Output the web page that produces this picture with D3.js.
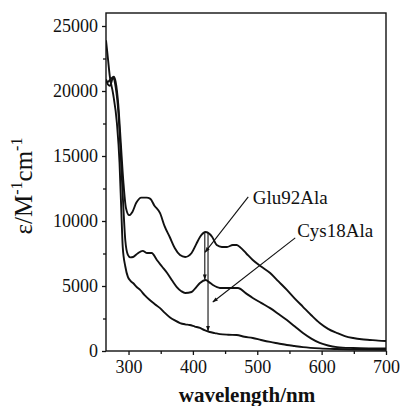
<!DOCTYPE html>
<html>
<head>
<meta charset="utf-8">
<script src="https://cdn.jsdelivr.net/npm/d3@7"></script>
<style>
  body { margin: 0; background: #fff; }
  text { font-family: "Liberation Serif", "Times New Roman", serif; fill: #111; }
</style>
</head>
<body>
<div id="chart"></div>
<script>
// wavelengths (nm) and extinction values
var wlA = [265, 268, 272, 277, 280, 284, 288, 292, 296, 301, 306, 312, 320, 328, 334, 340, 349, 356, 364, 372, 380, 388, 398, 405, 411, 420, 426, 430, 437, 445, 453, 462, 468, 473, 483, 493, 506, 520, 533, 546, 558, 571, 584, 597, 610, 624, 636, 649, 662, 675, 688, 700];
var epsA = [20800, 20700, 20900, 21100, 20700, 19000, 16000, 13000, 11000, 10450, 10700, 11400, 11800, 11800, 11700, 11200, 10600, 9600, 8770, 7900, 7380, 7230, 7540, 8200, 8770, 9150, 9000, 8770, 8150, 8000, 8000, 8150, 8150, 8000, 7500, 7000, 6500, 6000, 5350, 4700, 4050, 3400, 2750, 2150, 1700, 1380, 1150, 1000, 900, 850, 800, 770];

var wlB = [265, 268, 271, 276, 280, 284, 288, 292, 295, 299, 303, 307, 314, 322, 329, 336, 344, 352, 360, 368, 375, 382, 388, 398, 405, 411, 420, 425, 431, 442, 452, 461, 470, 482, 493, 506, 520, 533, 546, 558, 571, 584, 597, 610, 624, 649, 675, 700];
var epsB = [20900, 20500, 20400, 21000, 20300, 18500, 15000, 11000, 8500, 7400, 7200, 7230, 7500, 7700, 7540, 7540, 7000, 6500, 6000, 5400, 4920, 4600, 4460, 4540, 4900, 5230, 5460, 5300, 5080, 4850, 4850, 4850, 4850, 4450, 4080, 3700, 3300, 2850, 2380, 1900, 1380, 950, 620, 420, 300, 230, 200, 190];

var wlC = [265, 268, 271, 276, 282, 286, 289, 291, 295, 299, 303, 307, 313, 318, 325, 333, 341, 349, 356, 364, 372, 380, 388, 395, 403, 411, 418, 426, 434, 442, 455, 468, 480, 493, 506, 520, 533, 546, 558, 571, 597, 624, 650, 700];
var epsC = [23900, 22500, 21100, 19800, 17500, 14500, 10500, 8000, 6500, 5700, 5400, 5230, 4900, 4700, 4300, 3920, 3600, 3300, 2950, 2600, 2350, 2150, 2050, 2000, 1880, 1770, 1600, 1460, 1380, 1300, 1250, 1230, 1100, 1000, 850, 700, 580, 460, 380, 300, 200, 150, 120, 100];

var xTicks = [300, 400, 500, 600, 700];
var yTicks = [0, 5000, 10000, 15000, 20000, 25000];

// labels with their leader arrows (data coordinates)
var labels = [
  { text: "Glu92Ala", x: 493, y: 11300, x1: 486, y1: 11850, x2: 419, y2: 7600 },
  { text: "Cys18Ala", x: 562, y: 8770, x1: 559, y1: 8700, x2: 431, y2: 3770 }
];
// vertical difference arrows at ~420 nm
var drops = [
  { x: 418.5, y1: 9150, y2: 5500 },
  { x: 423.5, y1: 9100, y2: 1550 }
];

var margin = { top: 13, right: 14, bottom: 55, left: 106 },
  width = 400 - margin.left - margin.right,
  height = 406 - margin.top - margin.bottom;

var svg = d3
  .select("#chart")
  .append("svg")
  .attr("width", 400)
  .attr("height", 406)
  .append("g")
  .attr("transform", "translate(" + margin.left + "," + margin.top + ")");

var x = d3.scaleLinear().domain([265, 700]).range([0, width]);
var y = d3.scaleLinear().domain([0, 26000]).range([height, 0]);

svg.append("defs").append("clipPath").attr("id", "clip")
  .append("rect").attr("width", width).attr("height", height);

svg.select("defs").append("marker")
  .attr("id", "head")
  .attr("viewBox", "0 0 10 10")
  .attr("refX", 9).attr("refY", 5)
  .attr("markerWidth", 6).attr("markerHeight", 5)
  .attr("orient", "auto")
  .append("path").attr("d", "M0,1.5 L10,5 L0,8.5 z").attr("fill", "#111");

// frame
svg.append("rect")
  .attr("width", width).attr("height", height)
  .attr("fill", "none").attr("stroke", "#111").attr("stroke-width", 1.4);

// minor ticks
svg.append("g")
  .attr("transform", "translate(0," + height + ")")
  .call(d3.axisBottom(x).tickValues([350, 450, 550, 650]).tickSize(3).tickFormat(""))
  .call(function (g) { g.select(".domain").remove(); });
svg.append("g")
  .call(d3.axisLeft(y).tickValues([2500, 7500, 12500, 17500, 22500]).tickSize(3).tickFormat(""))
  .call(function (g) { g.select(".domain").remove(); });

// major ticks
svg.append("g")
  .attr("transform", "translate(0," + height + ")")
  .call(d3.axisBottom(x).tickValues(xTicks).tickSize(4).tickPadding(5).tickFormat(d3.format("d")))
  .call(function (g) { g.select(".domain").remove(); })
  .selectAll("text").style("font-size", "18px");
svg.append("g")
  .call(d3.axisLeft(y).tickValues(yTicks).tickSize(4).tickPadding(4).tickFormat(d3.format("d")))
  .call(function (g) { g.select(".domain").remove(); })
  .selectAll("text").style("font-size", "18px");

svg.selectAll(".tick line").attr("stroke", "#111").attr("stroke-width", 1.3);

var line = d3.line()
  .x(function (d) { return x(d[0]); })
  .y(function (d) { return y(d[1]); })
  .curve(d3.curveMonotoneX);

[[wlA, epsA], [wlB, epsB], [wlC, epsC]].forEach(function (s) {
  svg.append("path")
    .datum(d3.zip(s[0], s[1]))
    .attr("clip-path", "url(#clip)")
    .attr("fill", "none")
    .attr("stroke", "#111")
    .attr("stroke-width", 1.9)
    .attr("d", line);
});

// labels + arrows
labels.forEach(function (d) {
  svg.append("line")
    .attr("x1", x(d.x1)).attr("y1", y(d.y1))
    .attr("x2", x(d.x2)).attr("y2", y(d.y2))
    .attr("stroke", "#111").attr("stroke-width", 1.1)
    .attr("marker-end", "url(#head)");
  svg.append("text")
    .attr("x", x(d.x)).attr("y", y(d.y))
    .style("font-size", "19px")
    .text(d.text);
});
drops.forEach(function (d) {
  svg.append("line")
    .attr("x1", x(d.x)).attr("y1", y(d.y1))
    .attr("x2", x(d.x)).attr("y2", y(d.y2))
    .attr("stroke", "#111").attr("stroke-width", 1.1)
    .attr("marker-end", "url(#head)");
});

// axis titles
svg.append("text")
  .attr("x", width / 2 + 1).attr("y", height + 51)
  .attr("text-anchor", "middle")
  .style("font-size", "21px")
  .style("font-weight", "bold")
  .text("wavelength/nm");

var yl = svg.append("text")
  .attr("transform", "translate(" + (-74) + "," + (height / 2 + 4) + ") rotate(-90)")
  .attr("text-anchor", "middle")
  .style("font-size", "25px");
yl.append("tspan").text("ε/M");
yl.append("tspan").attr("dy", -10).style("font-size", "16px").text("-1");
yl.append("tspan").attr("dy", 10).text("cm");
yl.append("tspan").attr("dy", -10).style("font-size", "16px").text("-1");
</script>
</body>
</html>
